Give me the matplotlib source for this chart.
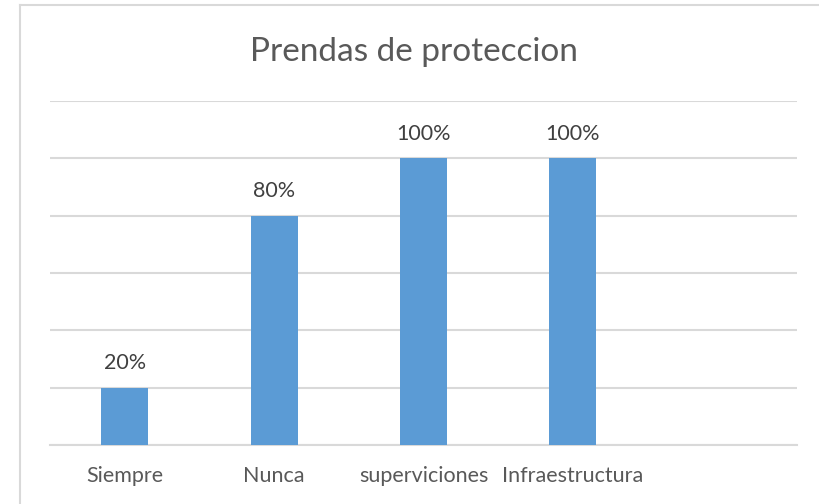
import matplotlib
matplotlib.use('Agg')
import matplotlib.pyplot as plt
from matplotlib.lines import Line2D

# chart data
categories = ["Siempre", "Nunca", "superviciones", "Infraestructura", ""]
values = [0.20, 0.80, 1.00, 1.00, None]
value_labels = ["20%", "80%", "100%", "100%", ""]
title = "Prendas de proteccion"

plt.rcParams['font.family'] = ['Lato', 'DejaVu Sans']

fig = plt.figure(figsize=(8.2, 5.04), dpi=100)

# chart frame: only the left and top edges fall inside the picture
fx, fy = 20 / 820, 1 - 4.5 / 504
fig.lines.append(Line2D([fx, fx], [0, fy], transform=fig.transFigure,
                        color="#d9d9d9", linewidth=1.5))
fig.lines.append(Line2D([fx, 1], [fy, fy], transform=fig.transFigure,
                        color="#d9d9d9", linewidth=1.5))

ax = fig.add_axes([50 / 820, 1 - 445 / 504, 747 / 820, 344 / 504])

xs = list(range(len(categories)))
heights = [v if v is not None else 0 for v in values]
ax.bar(xs, heights, width=0.315, color="#5b9bd5", zorder=3)

for x, v, lab in zip(xs, values, value_labels):
    if v is None:
        continue
    ax.text(x, v + 0.085, lab, ha="center", va="center",
            fontsize=15.5, color="#404040")

ax.set_xlim(-0.5, len(categories) - 0.5)
ax.set_ylim(0, 1.2)
ax.set_yticks([0, 0.2, 0.4, 0.6, 0.8, 1.0, 1.2])
ax.set_yticklabels([])
ax.grid(axis="y", color="#d9d9d9", linewidth=1.5, zorder=0)
ax.set_xticks(xs)
ax.set_xticklabels(categories, fontsize=15.5, color="#595959")
ax.tick_params(axis="both", length=0)
ax.tick_params(axis="x", pad=15)
for s in ["top", "right", "left"]:
    ax.spines[s].set_visible(False)
ax.spines["bottom"].set_color("#d9d9d9")
ax.spines["bottom"].set_linewidth(1.5)

fig.text(0.5 + 4 / 820, 1 - 52 / 504, title, ha="center", va="center",
         fontsize=24, color="#595959")

fig.savefig("out.png", dpi=100)
